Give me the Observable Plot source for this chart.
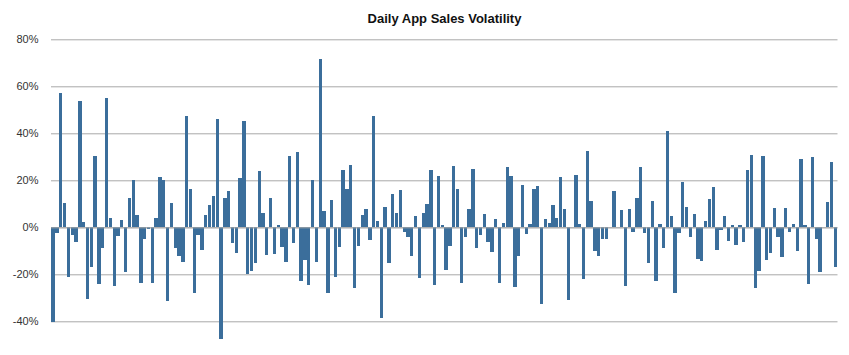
<!DOCTYPE html>
<html>
<head>
<meta charset="utf-8">
<script src="https://cdn.jsdelivr.net/npm/d3@7"></script>
<script src="https://cdn.jsdelivr.net/npm/@observablehq/plot@0.6"></script>
<style>
  html, body { margin: 0; padding: 0; background: #fff; }
  #header { position: relative; height: 28px; width: 849px; }
  #title {
    position: absolute; top: 12px; left: 51px; right: 11px;
    text-align: center;
    font: bold 13px/13px "Liberation Sans", Arial, Helvetica, sans-serif;
    color: #111;
  }
</style>
</head>
<body>
<div id="header"><div id="title">Daily App Sales Volatility</div></div>
<div id="chart"></div>
<script>
// Daily sales change (%), one value per day
const values = [
  -40.4, -2.6, 57, 10.2, -21, -3.3, -6.1, 53.8, 2.3, -30.4,
  -17, 30.4, -24, -9, 55, 4, -24.8, -3.5, 3.1, -18.9,
  12.5, 20, 5.2, -23.5, -4.8, -0.8, -23.5, 3.8, 21.5, 20,
  -31.5, 10.3, -9, -12, -14.6, 47.4, 16.3, -27.8, -3.1, -9.5,
  5.2, 9.5, 13.3, 46, -47.5, 12.5, 15.5, -6.5, -10.8, 21,
  45.2, -19.8, -18.4, -15, 24, 6.1, -11.8, 12.5, -11.2, 1,
  -8.2, -14.6, 30.3, -6.5, 32, -23, -13.8, -24.4, 20, -14.6,
  71.6, 7, -27.8, 11.6, -21, -8.2, 24.4, 16.3, 26.5, -25.7,
  -7.8, 5.2, 7.8, -5.2, 47.4, 2.7, -38.4, 8.7, -15, 14.2,
  6.1, 15.9, -1.8, -4, -12, 4.8, -21.4, 6.1, 9.9, 24.4,
  -24.4, 21.8, 1, -18, -7.8, 26.1, 16.3, -23.5, -4, 7.8,
  24.8, -9, -3.1, 5.7, -6.1, -10.4, 3.5, -23.5, 1.8, 25.7,
  21.8, -25.2, -12, 18, -2.7, 1.4, 16.3, 17.6, -32.5, 3.5,
  1.8, 9.5, 4, 21.4, 7.8, -31, 0, 22.3, 1.4, -22,
  32.5, 11.2, -9.9, -12.2, -4.8, -4.8, 0, 15.5, 0, 7.4,
  -24.8, 7.8, -1.8, 12.5, 25.7, -2.3, -15, 11.2, -23, 1.4,
  -9, 41, 4.8, -27.8, -2.3, 19.3, 8.7, -4, 5.7, -13.3,
  -14.2, 2.7, 12, 17.2, -9.5, -1, 4.8, -5.7, 1, -7.4,
  1, -6.1, 24.4, 30.8, -25.7, -18.4, 30.3, -13.8, -10.8, 8.2,
  -4, -12.5, 8.2, -1.8, 1.4, -9.9, 29, 1, -24, 30,
  -4.8, -19, 0, 10.8, 27.8, -16.8
];
const yTicks = [-40, -20, 0, 20, 40, 60, 80];
const yDomain = [-50, 80];

const days = values.map((v, i) => ({day: i, value: v}));

const chart = Plot.plot({
  width: 849,
  height: 327,
  marginTop: 11.3,
  marginBottom: 10.2,
  marginLeft: 51,
  marginRight: 11.5,
  style: {
    fontFamily: '"Liberation Sans", Arial, Helvetica, sans-serif',
    fontSize: "11px",
    color: "#333",
    background: "#fff"
  },
  x: {type: "band", domain: d3.range(values.length), padding: 0.12, axis: null},
  y: {domain: yDomain, axis: null},
  marks: [
    Plot.ruleY(yTicks, {stroke: "#a8a8a8", strokeWidth: 1}),
    Plot.barY(days, {x: "day", y: "value", fill: "#3b6e9b", shapeRendering: "crispEdges"}),
    Plot.ruleY([0], {stroke: "#a8a8a8", strokeWidth: 1}),
    Plot.axisY(yTicks, {tickSize: 0, tickPadding: 13, tickFormat: d => d + "%", fill: "#333", label: null})
  ]
});
document.getElementById("chart").appendChild(chart);
</script>
</body>
</html>
